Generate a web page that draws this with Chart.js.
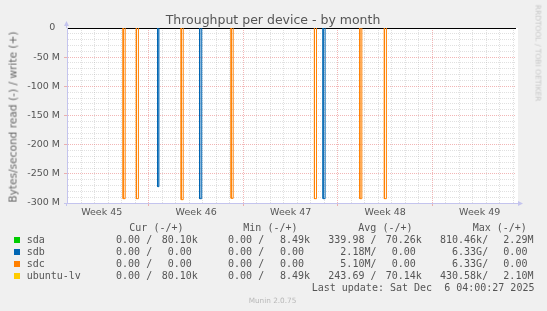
<!DOCTYPE html>
<html><head><meta charset="utf-8">
<script src="https://cdn.jsdelivr.net/npm/chart.js@4.4.1/dist/chart.umd.min.js"></script>
<style>
html,body{margin:0;padding:0;background:#F0F0F0;}
#wrap{position:relative;width:547px;height:311px;overflow:hidden;background:#F0F0F0;}
canvas{position:absolute;left:0;top:0;}
.t{position:absolute;white-space:pre;color:#555;font-family:"DejaVu Sans";}
.m{position:absolute;white-space:pre;color:#555;font-family:"DejaVu Sans Mono";font-size:10px;line-height:12px;}
.sq{position:absolute;width:6px;height:6px;}
</style></head><body>
<div id="wrap"><canvas id="c" width="547" height="311"></canvas></div>
<script>
// ---------------- data ----------------
const chartTitle = "Throughput per device - by month";
const yAxisTitle = "Bytes/second read (-) / write (+)";
const sideText = "RRDTOOL / TOBI OETIKER";
const footerText = "Munin 2.0.75";
const lastUpdate = "Last update: Sat Dec  6 04:00:27 2025";

// time axis in days, 0 = Mon 10 Nov 2025 00:00 (start of Week 46)
const xMin = -6.07, xMax = 27.19;
const weekLabels = ["Week 45", "Week 46", "Week 47", "Week 48", "Week 49"];
const weekCenters = [-3.5, 3.5, 10.5, 17.5, 24.5];

const yMin = -300e6, yMax = 0;
const yTickValues = [0, -50e6, -100e6, -150e6, -200e6, -250e6, -300e6];
const yTickLabels = ["0\u2002", "-50 M", "-100 M", "-150 M", "-200 M", "-250 M", "-300 M"];

const seriesNames = ["sda", "sdb", "sdc", "ubuntu-lv"];
const seriesColors = ["#00CC00", "#0066B3", "#FF8000", "#FFCC00"];

// read bursts (negative = read), start/end in days, value in bytes/s
const sdaStart = [], sdaEnd = [], sdaValue = [];
const sdbStart = [0.65, 3.76, 12.90];
const sdbEnd   = [0.74, 3.91, 13.05];
const sdbValue = [-272e6, -292.6e6, -292.6e6];
const sdcStart = [-1.91, -0.93, 2.39, 6.09, 12.26, 15.62, 17.44];
const sdcEnd   = [-1.76, -0.78, 2.54, 6.24, 12.41, 15.77, 17.59];
const sdcValue = [-292.6e6, -292.6e6, -294.3e6, -292.0e6, -292.6e6, -292.6e6, -292.6e6];
const ubuStart = [], ubuEnd = [], ubuValue = [];

// legend table (as displayed by munin)
const curRead  = ["0.00", "0.00", "0.00", "0.00"];
const curWrite = ["80.10k", "0.00", "0.00", "80.10k"];
const minRead  = ["0.00", "0.00", "0.00", "0.00"];
const minWrite = ["8.49k", "0.00", "0.00", "8.49k"];
const avgRead  = ["339.98", "2.18M", "5.10M", "243.69"];
const avgWrite = ["70.26k", "0.00", "0.00", "70.14k"];
const maxRead  = ["810.46k", "6.33G", "6.33G", "430.58k"];
const maxWrite = ["2.29M", "0.00", "0.00", "2.10M"];
const colHeaders = ["Cur (-/+)", "Min (-/+)", "Avg (-/+)", "Max (-/+)"];

// ---------------- build ----------------
function buildSeries(starts, ends, values) {
  const pts = [{x: xMin, y: 0}];
  for (let i = 0; i < starts.length; i++) {
    pts.push({x: starts[i], y: 0}, {x: starts[i], y: values[i]},
             {x: ends[i], y: values[i]}, {x: ends[i], y: 0});
  }
  pts.push({x: xMax, y: 0});
  return pts;
}
const seriesData = [
  buildSeries(sdaStart, sdaEnd, sdaValue),
  buildSeries(sdbStart, sdbEnd, sdbValue),
  buildSeries(sdcStart, sdcEnd, sdcValue),
  buildSeries(ubuStart, ubuEnd, ubuValue)
];

const MAJOR = "rgba(230,110,110,0.5)";
const MINOR = "rgba(160,160,160,0.33)";
const AXIS = "#C4C4EE";
const TXT = "#555555";

const isInt = v => Math.abs(v - Math.round(v)) < 1e-9;
const isWeekLine = v => isInt(v) && Math.round(v) % 7 === 0;
const isYMajor = v => Math.round(v) % 50e6 === 0;

const bgPlugin = {
  id: 'bg',
  beforeDraw(chart) {
    const {ctx, chartArea: a} = chart;
    ctx.save(); ctx.fillStyle = '#FFFFFF';
    ctx.fillRect(a.left, a.top, a.right - a.left + 2, a.bottom - a.top);
    ctx.restore();
  },
  afterDraw(chart) {
    const {ctx, chartArea: a} = chart;
    ctx.save();
    ctx.strokeStyle = AXIS; ctx.fillStyle = AXIS; ctx.lineWidth = 1;
    ctx.beginPath();
    ctx.moveTo(a.left - 0.5, a.top); ctx.lineTo(a.left - 0.5, a.top - 3);
    ctx.moveTo(a.left - 3, a.bottom + 0.5); ctx.lineTo(a.left, a.bottom + 0.5);
    ctx.moveTo(a.left - 0.5, a.bottom); ctx.lineTo(a.left - 0.5, a.bottom + 3);
    ctx.moveTo(a.right, a.bottom + 0.5); ctx.lineTo(a.right + 3, a.bottom + 0.5);
    ctx.stroke();
    ctx.beginPath();
    ctx.moveTo(a.left - 3, a.top - 2); ctx.lineTo(a.left + 2, a.top - 2); ctx.lineTo(a.left - 0.5, a.top - 7); ctx.closePath();
    ctx.fill();
    ctx.beginPath();
    ctx.moveTo(a.right + 2, a.bottom - 2); ctx.lineTo(a.right + 2, a.bottom + 3); ctx.lineTo(a.right + 7, a.bottom + 0.5); ctx.closePath();
    ctx.fill();
    ctx.restore();
  }
};

new Chart(document.getElementById('c'), {
  type: 'line',
  data: {
    datasets: seriesNames.map((n, i) => ({
      label: n,
      data: seriesData[i],
      borderColor: seriesColors[i],
      borderWidth: 1,
      pointRadius: 0,
      tension: 0,
      fill: false,
      segment: {
        borderColor: c => (c.p0.parsed.y === 0 && c.p1.parsed.y === 0) ? 'transparent' : undefined
      }
    }))
  },
  options: {
    responsive: false,
    animation: false,
    devicePixelRatio: 1,
    layout: {padding: {left: 0, right: 31, top: 28, bottom: 0}},
    plugins: {legend: {display: false}, tooltip: {enabled: false}, title: {display: false}},
    scales: {
      x: {
        type: 'linear', min: xMin, max: xMax,
        afterBuildTicks: s => {
          const t = [];
          for (let v = Math.ceil(xMin * 2) / 2; v <= xMax; v += 0.5) t.push({value: v});
          s.ticks = t;
        },
        afterFit: s => { s.height = 108; },
        ticks: {
          autoSkip: false, maxRotation: 0, minRotation: 0, padding: 1, color: TXT,
          font: {family: 'DejaVu Sans', size: 9.5},
          callback: v => { const i = weekCenters.indexOf(v); return i >= 0 ? weekLabels[i] : ''; }
        },
        grid: {
          lineWidth: 1, tickLength: 3, drawTicks: true,
          color: c => !isInt(c.tick.value) ? 'transparent' : (isWeekLine(c.tick.value) ? MAJOR : MINOR),
          tickColor: c => isWeekLine(c.tick.value) ? MAJOR : 'transparent'
        },
        border: {display: true, color: AXIS, width: 1, dash: [1, 1]}
      },
      y: {
        type: 'linear', min: yMin, max: yMax,
        afterBuildTicks: s => {
          const t = [];
          for (let k = 0; k <= 30; k++) t.push({value: -k * 1e7});
          s.ticks = t;
        },
        afterFit: s => { s.width = 67; },
        ticks: {
          autoSkip: false, padding: 4, color: TXT,
          font: {family: 'DejaVu Sans', size: 9.5},
          callback: v => { const i = yTickValues.indexOf(v); return i >= 0 ? yTickLabels[i] : ''; }
        },
        grid: {
          lineWidth: 1, tickLength: 3,
          color: c => c.tick.value === 0 ? '#000000' : (isYMajor(c.tick.value) ? MAJOR : MINOR),
          tickColor: c => (isYMajor(c.tick.value) && c.tick.value !== 0) ? MAJOR : 'transparent'
        },
        border: {display: true, color: AXIS, width: 1,
          dash: c => (c.tick && c.tick.value === 0) ? [] : [1, 1]}
      }
    }
  },
  plugins: [bgPlugin]
});

// ---------------- text overlay ----------------
const wrap = document.getElementById('wrap');
function add(cls, text, css) {
  const d = document.createElement('div');
  d.className = cls; d.textContent = text;
  Object.assign(d.style, css);
  wrap.appendChild(d);
  return d;
}
add('t', chartTitle, {left: '273px', top: '19px', fontSize: '12.5px', lineHeight: '15px', transform: 'translate(-50%,-50%)'});
add('t', yAxisTitle, {left: '13px', top: '116.5px', fontSize: '10.6px', lineHeight: '13px', color: '#666', transform: 'translate(-50%,-50%) rotate(-90deg)'});
add('t', sideText, {left: '537.5px', top: '52.5px', fontSize: '7.5px', lineHeight: '9px', color: '#C8C8C8', transform: 'translate(-50%,-50%) rotate(90deg)'});
add('t', footerText, {left: '272.5px', top: '300px', fontSize: '7.3px', lineHeight: '9px', color: '#B8B8B8', transform: 'translate(-50%,-50%)'});

const headerLeft = [129.3, 243.3, 358.3, 472.7];
const readLeft = [104, 216, 328.3, 440];
const writeLeft = [155.7, 268, 379.7, 491.3];
const rowCenter = [240, 252, 264, 276];
const fmt = s => (/[kMG]$/.test(s) ? s : s + ' ').padStart(7, ' ');
colHeaders.forEach((h, k) => add('m', h, {left: headerLeft[k] + 'px', top: (227.3 - 5.8) + 'px'}));
const cols = [[curRead, curWrite], [minRead, minWrite], [avgRead, avgWrite], [maxRead, maxWrite]];
seriesNames.forEach((n, i) => {
  const top = rowCenter[i] - 5.8;
  const sq = document.createElement('div');
  sq.className = 'sq';
  Object.assign(sq.style, {left: '14px', top: (rowCenter[i] - 3) + 'px', background: seriesColors[i]});
  wrap.appendChild(sq);
  add('m', n, {left: '26.7px', top: top + 'px'});
  cols.forEach((c, k) => {
    add('m', fmt(c[0][i]) + '/', {left: readLeft[k] + 'px', top: top + 'px'});
    add('m', fmt(c[1][i]), {left: writeLeft[k] + 'px', top: top + 'px'});
  });
});
add('m', lastUpdate, {left: '311.7px', top: (287.7 - 5.8) + 'px'});
</script>
</body></html>
